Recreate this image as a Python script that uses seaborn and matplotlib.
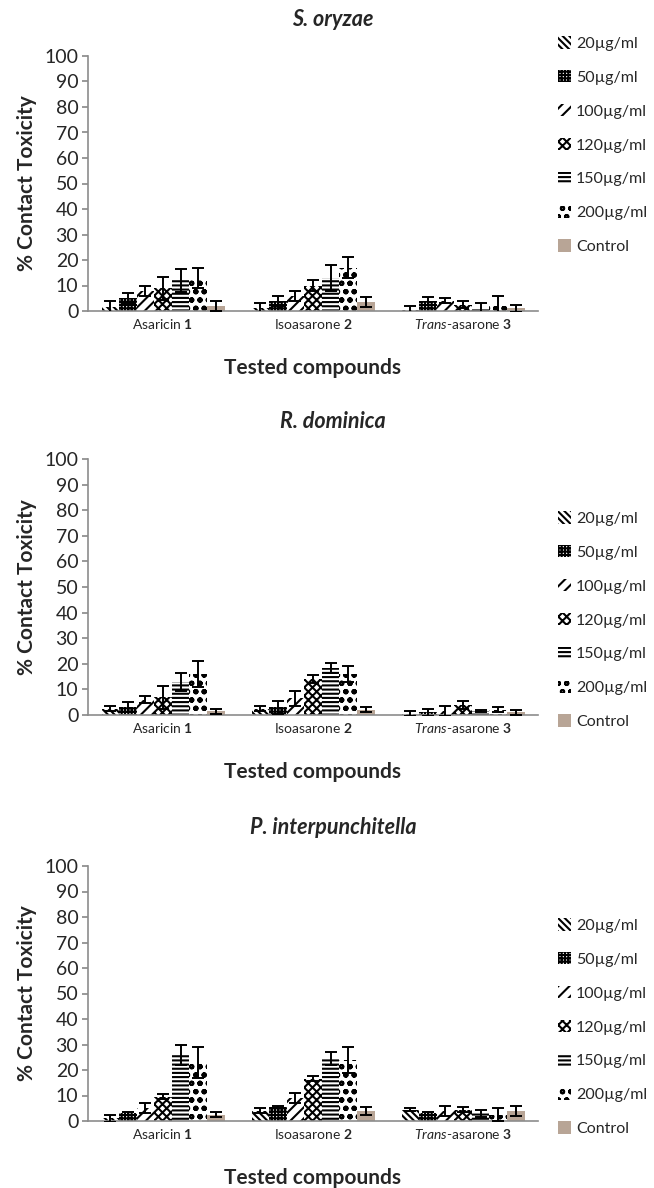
import matplotlib
matplotlib.use("Agg")
import matplotlib.pyplot as plt
import matplotlib.patches as mpatches
import seaborn as sns
import pandas as pd
import numpy as np

compounds = ["Asaricin 1", "Isoasarone 2", "Trans-asarone 3"]
compound_labels = [r"Asaricin $\mathbf{1}$", r"Isoasarone $\mathbf{2}$", r"$\mathit{Trans}$-asarone $\mathbf{3}$"]
concs = ["20µg/ml", "50µg/ml", "100µg/ml", "120µg/ml", "150µg/ml", "200µg/ml", "Control"]
panels = ["S. oryzae", "R. dominica", "P. interpunchitella"]

# values per panel: rows = compounds, cols = concentrations
s_oryzae_vals = [[1.5, 5.0, 8.0, 9.0, 12.0, 13.0, 2.0],
                 [1.0, 4.0, 6.0, 10.0, 13.0, 17.0, 3.5],
                 [0.5, 4.0, 4.0, 2.5, 1.0, 2.0, 1.0]]
s_oryzae_err = [[2.5, 2.0, 2.0, 4.5, 4.5, 4.0, 2.0],
                [2.0, 2.0, 2.0, 2.0, 5.0, 4.0, 2.0],
                [1.5, 1.5, 1.0, 1.5, 2.0, 4.0, 1.5]]
r_dominica_vals = [[2.5, 3.0, 6.0, 7.0, 13.0, 16.0, 1.5],
                   [2.5, 3.0, 6.5, 14.0, 18.5, 16.0, 2.0],
                   [0.5, 1.0, 1.5, 4.0, 1.5, 2.0, 1.0]]
r_dominica_err = [[1.0, 2.0, 1.5, 4.5, 3.5, 5.0, 1.0],
                  [1.0, 2.5, 3.0, 1.5, 2.0, 3.0, 1.0],
                  [1.0, 1.5, 2.0, 1.5, 0.5, 1.0, 1.0]]
p_interp_vals = [[1.0, 3.0, 5.0, 9.5, 26.0, 23.0, 2.5],
                 [4.0, 5.5, 9.0, 16.5, 24.5, 24.0, 4.0],
                 [4.5, 3.0, 4.0, 4.5, 3.0, 2.5, 4.0]]
p_interp_err = [[1.5, 0.5, 2.0, 1.0, 4.0, 6.0, 1.0],
                [1.0, 0.5, 2.0, 1.0, 2.5, 5.0, 1.5],
                [0.5, 0.5, 2.0, 1.0, 1.5, 2.5, 2.0]]

all_vals = [s_oryzae_vals, r_dominica_vals, p_interp_vals]
all_errs = [s_oryzae_err, r_dominica_err, p_interp_err]

hatches = ["\\\\\\\\\\", "+++++", "///", "xxxx", "----", "oo", None]
control_color = "#b8a596"

sns.set_theme(style="white")
plt.rcParams["font.family"] = ["Lato", "DejaVu Sans"]
plt.rcParams["mathtext.fontset"] = "custom"
plt.rcParams["mathtext.rm"] = "Lato"
plt.rcParams["mathtext.it"] = "Lato:italic"
plt.rcParams["mathtext.bf"] = "Lato:bold"
plt.rcParams["hatch.linewidth"] = 1.5

W, H = 654, 1188
fig = plt.figure(figsize=(W / 100, H / 100), dpi=100)

zero_y = [311, 715, 1121]
top_y = [56, 459, 866]
title_y = [20, 422, 828]
legend_top = [30, 505, 912]
ax_left, ax_right = 88, 538

for p in range(3):
    ax = fig.add_axes([ax_left / W, (H - zero_y[p]) / H,
                       (ax_right - ax_left) / W, (zero_y[p] - top_y[p]) / H])
    rows = []
    for i, c in enumerate(compounds):
        for j, k in enumerate(concs):
            rows.append({"compound": c, "conc": k, "value": all_vals[p][i][j],
                         "err": all_errs[p][i][j]})
    df = pd.DataFrame(rows)
    sns.barplot(data=df, x="compound", y="value", hue="conc", order=compounds,
                hue_order=concs, errorbar=None, width=0.82, ax=ax,
                palette=["white"] * 6 + [control_color], legend=False)
    bar_conts = list(ax.containers)
    for j, cont in enumerate(bar_conts):
        xs, hs, es = [], [], []
        for i, bar in enumerate(cont.patches):
            if hatches[j]:
                bar.set_facecolor("white")
                bar.set_hatch(hatches[j])
                bar.set_edgecolor("black")
                bar.set_linewidth(0)
            else:
                bar.set_facecolor(control_color)
                bar.set_edgecolor(control_color)
                bar.set_linewidth(0)
            xs.append(bar.get_x() + bar.get_width() / 2)
            hs.append(bar.get_height())
            es.append(all_errs[p][i][j])
        ax.errorbar(xs, hs, yerr=es, fmt="none", ecolor="black",
                    elinewidth=1.4, capsize=4.5, capthick=1.4, zorder=5)
    ax.set_ylim(0, 100)
    ax.set_yticks(np.arange(0, 101, 10))
    ax.set_xlim(-0.5, 2.5)
    ax.set_xticks(range(3))
    ax.set_xticklabels(compound_labels, fontsize=10)
    ax.tick_params(axis="y", labelsize=14, length=4, color="#8c8c8c", left=True, pad=3)
    ax.tick_params(axis="x", length=0, pad=4)
    for s in ["top", "right"]:
        ax.spines[s].set_visible(False)
    for s in ["left", "bottom"]:
        ax.spines[s].set_color("#8c8c8c")
        ax.spines[s].set_linewidth(1.2)
    ax.set_ylabel("% Contact Toxicity", fontsize=15, fontweight="bold", labelpad=5)
    ax.set_xlabel("Tested compounds", fontsize=15, fontweight="bold", labelpad=20)
    fig.text(333 / W, 1 - title_y[p] / H, panels[p], ha="center", va="center",
             fontsize=15.5, fontweight="bold", fontstyle="italic")
    handles = []
    for j, k in enumerate(concs):
        if hatches[j]:
            handles.append(mpatches.Patch(facecolor="white", edgecolor="black",
                                          linewidth=0, hatch=hatches[j], label=k))
        else:
            handles.append(mpatches.Patch(facecolor=control_color, linewidth=0, label=k))
    fig.legend(handles=handles, loc="upper left",
               bbox_to_anchor=(552 / W, 1 - legend_top[p] / H),
               frameon=False, fontsize=11.5, handlelength=0.8, handleheight=0.8,
               handletextpad=0.3, labelspacing=1.2, borderaxespad=0)

fig.savefig("out.png", dpi=100)
